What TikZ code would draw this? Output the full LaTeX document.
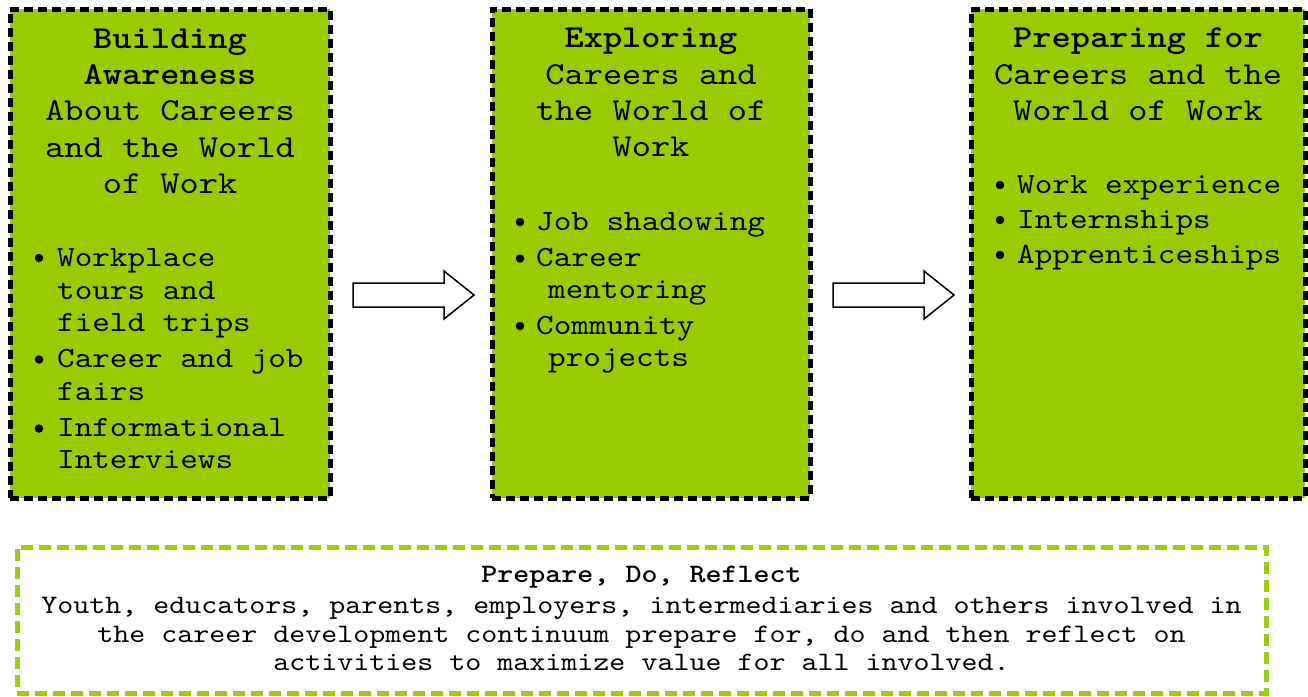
\documentclass[tikz,border=0pt]{standalone}
\usepackage{fontspec}
\newfontfamily\cour[Extension=.otf, UprightFont=lmmono10-regular, BoldFont=lmmonolt10-bold, FakeStretch=1.142857]{lmmono10-regular}
\definecolor{boxgreen}{HTML}{99CC00}
\definecolor{linegreen}{HTML}{9ACD0E}
\begin{document}
\begin{tikzpicture}[x=1pt,y=-1pt,
  box/.style={rectangle, fill=boxgreen, draw=black, line width=5pt, dash pattern=on 9pt off 5pt, inner sep=0pt},
  note/.style={rectangle, fill=white, draw=linegreen, line width=5pt, dash pattern=on 12pt off 6pt, inner sep=0pt},
  ttl/.style={anchor=base, inner sep=0pt, font=\cour\fontsize{32}{36}\selectfont\bfseries},
  sub/.style={anchor=base, inner sep=0pt, font=\cour\fontsize{32}{36}\selectfont},
  item/.style={anchor=base west, inner sep=0pt, font=\cour\fontsize{29.33}{33}\selectfont},
  dot/.style={circle, fill=black, inner sep=0pt, minimum size=8.5pt},
  body/.style={anchor=base, inner sep=0pt, font=\cour\fontsize{26.67}{28}\selectfont},
  bodyb/.style={body, font=\cour\fontsize{26.67}{28}\selectfont\bfseries},
  blockarrow/.style={draw=black, fill=white, line width=1.5pt, line join=miter}
]
\fill[white] (0,0) rectangle (1308,696);
\useasboundingbox (0,0) rectangle (1308,696);

% boxes
\node[box, minimum width=320pt, minimum height=489pt] (b1) at (170,253.5) {};
\node[box, minimum width=318pt, minimum height=489pt] (b2) at (651,253.5) {};
\node[box, minimum width=334pt, minimum height=489pt] (b3) at (1138,253.5) {};
\node[note, minimum width=1249pt, minimum height=146pt] (b4) at (641.5,620) {};

% arrows
\draw[blockarrow] (353,283) -- (444,283) -- (444,271) -- (474,295) -- (444,319) -- (444,307) -- (353,307) -- cycle;
\draw[blockarrow] (833,283) -- (924,283) -- (924,271) -- (954,295) -- (924,319) -- (924,307) -- (833,307) -- cycle;

% box 1
\node[ttl] (t1a) at (170,48) {Building};
\node[ttl] (t1b) at (170,84) {Awareness};
\node[sub] (t1c) at (170,120.5) {About Careers};
\node[sub] (t1d) at (170,157) {and the World};
\node[sub] (t1e) at (170,193) {of Work};
\node[dot] (d1a) at (39,258) {};
\node[item] (i1a) at (57,266) {Workplace};
\node[item] (i1b) at (57,299) {tours and};
\node[item] (i1c) at (57,331.5) {field trips};
\node[dot] (d1b) at (39,359.5) {};
\node[item] (i1d) at (57,367.5) {Career and job};
\node[item] (i1e) at (57,400.5) {fairs};
\node[dot] (d1c) at (39,428.5) {};
\node[item] (i1f) at (57,436.5) {Informational};
\node[item] (i1g) at (57,468.5) {Interviews};

% box 2
\node[ttl] (t2a) at (651,47) {Exploring};
\node[sub] (t2b) at (651,84) {Careers and};
\node[sub] (t2c) at (651,120) {the World of};
\node[sub] (t2d) at (651,156) {Work};
\node[dot] (d2a) at (520,222) {};
\node[item] (i2a) at (536,230) {Job shadowing};
\node[dot] (d2b) at (520,258.5) {};
\node[item] (i2b) at (536,266.5) {Career};
\node[item] (i2c) at (548,298.5) {mentoring};
\node[dot] (d2c) at (520,326) {};
\node[item] (i2d) at (536,334) {Community};
\node[item] (i2e) at (548,366.5) {projects};

% box 3
\node[ttl] (t3a) at (1138,47) {Preparing for};
\node[sub] (t3b) at (1138,84) {Careers and the};
\node[sub] (t3c) at (1138,120) {World of Work};
\node[dot] (d3a) at (1000,185) {};
\node[item] (i3a) at (1017,193) {Work experience};
\node[dot] (d3b) at (1000,220) {};
\node[item] (i3b) at (1017,228) {Internships};
\node[dot] (d3c) at (1000,255) {};
\node[item] (i3c) at (1017,263) {Apprenticeships};

% bottom note
\node[bodyb] (n1) at (641.5,582) {Prepare, Do, Reflect};
\node[body] (n2) at (641.5,613.5) {Youth, educators, parents, employers, intermediaries and others involved in};
\node[body] (n3) at (641.5,642) {the career development continuum prepare for, do and then reflect on};
\node[body] (n4) at (641.5,670) {activities to maximize value for all involved.};
\end{tikzpicture}
\end{document}
